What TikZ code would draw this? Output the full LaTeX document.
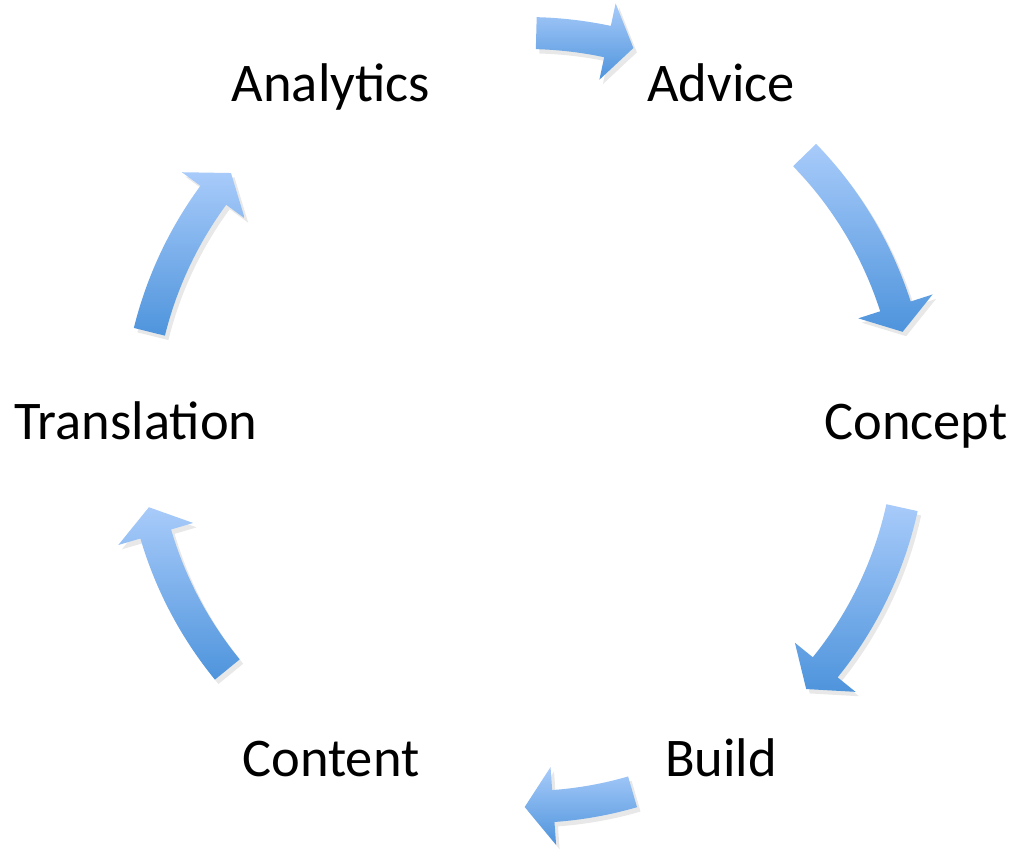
\documentclass[tikz,border=0pt]{standalone}
\usepackage{fontspec}
\setmainfont{Carlito}
\usetikzlibrary{calc,shadows}

\definecolor{flowtop}{RGB}{168,203,250}
\definecolor{flowbottom}{RGB}{78,148,220}

% curved arrow round the centre (c): tail angle, head angle, tip angle, radius
\newcommand{\flowarrow}[4]{%
  \path[flow,shift={(c)}] ({#1}:{#4+16}) arc[start angle=#1,end angle=#2,radius=#4+16]
    -- ({#2}:{#4+39}) -- ({#3}:{#4}) -- ({#2}:{#4-39}) -- ({#2}:{#4-16})
    arc[start angle=#2,end angle=#1,radius=#4-16] -- cycle;}

\begin{document}
\begin{tikzpicture}[
   x=0.02cm,y=0.02cm,
   stage/.style={font=\fontsize{31}{37}\selectfont,inner sep=0pt,anchor=base,yshift=-8pt},
   flow/.style={top color=flowtop,bottom color=flowbottom,
     drop shadow={opacity=0.18,shadow xshift=2pt,shadow yshift=-2.5pt}}]
\useasboundingbox (0,0) rectangle (1016,850);
\coordinate (c) at (526,425);
\node[stage] (analytics)   at ($(c)+(120:390)$) {Analytics};
\node[stage] (advice)      at ($(c)+(60:390)$)  {Advice};
\node[stage] (concept)     at ($(c)+(0:390)$)   {Concept};
\node[stage] (build)       at ($(c)+(-60:390)$) {Build};
\node[stage] (content)     at ($(c)+(-120:390)$) {Content};
\node[stage] (translation) at ($(c)+(180:390)$) {Translation};
\flowarrow{88.5}{78}{74.1}{392}
\flowarrow{44.1}{17.8}{13.9}{388}
\flowarrow{-12.4}{-39}{-43.3}{385}
\flowarrow{-73.8}{-85.9}{-90.2}{382}
\flowarrow{219.3}{196.4}{192.3}{386}
\flowarrow{166.1}{143.7}{139.5}{388}
\end{tikzpicture}
\end{document}
